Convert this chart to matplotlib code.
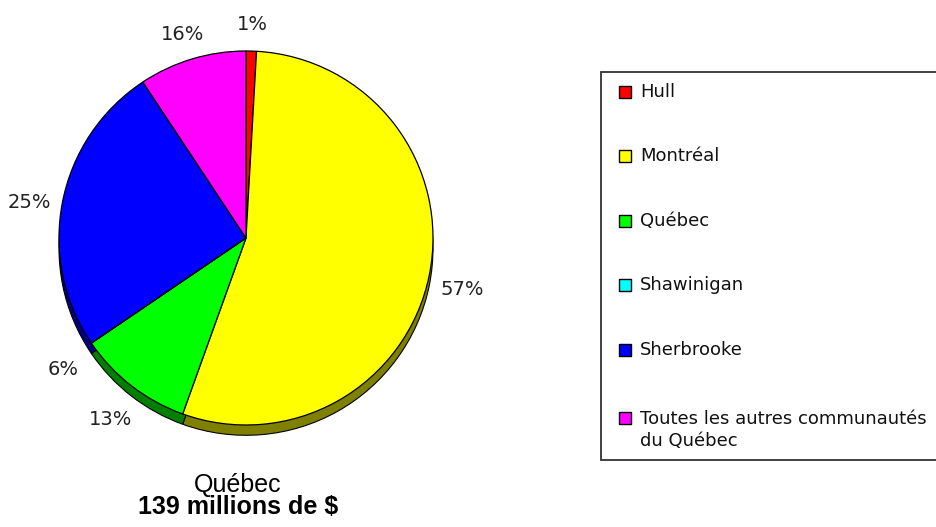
import matplotlib.pyplot as plt
from matplotlib.patches import Rectangle

# slice sizes (angles), labels as printed on the chart
cities = ["Hull", "Montréal", "Québec", "Shawinigan", "Sherbrooke",
          "Toutes les autres communautés\ndu Québec"]
sizes = [0.9, 54.6, 10.0, 0.0, 25.2, 9.3]
pct_labels = ["1%", "57%", "13%", "6%", "25%", "16%"]
colors = ["#FF0000", "#FFFF00", "#00FF00", "#00FFFF", "#0000FF", "#FF00FF"]
side_colors = ["#800000", "#808000", "#008000", "#008080", "#000080", "#800080"]

W, H = 937, 527
fig = plt.figure(figsize=(W / 100, H / 100), dpi=100)

# pie axes: center at (246, 238) px, radius ~187 px
r_px = 187
lim = 1.4
span = 2 * lim * r_px
cx, cy = 246, H - 238
ax = fig.add_axes([(cx - span / 2) / W, (cy - span / 2) / H, span / W, span / H])

# the "3D" side of the pie, shifted down
ax.pie(sizes, colors=side_colors, startangle=90, counterclock=False,
       center=(0, -0.055), wedgeprops=dict(edgecolor="black", linewidth=0.8))
wedges, texts = ax.pie(sizes, colors=colors, labels=pct_labels, startangle=90,
                       counterclock=False, labeldistance=1.18,
                       wedgeprops=dict(edgecolor="black", linewidth=0.9),
                       textprops=dict(fontsize=14, family="DejaVu Sans", color="#222222"))
for t in texts:
    x, y = t.get_position()
    t.set_position((x, y - 0.04))
    t.set_ha("center")
    t.set_va("center")
ax.set_xlim(-lim, lim)
ax.set_ylim(-lim, lim)
ax.set_aspect("equal")
ax.axis("off")

# overlay in pixel coords for legend and caption
ov = fig.add_axes([0, 0, 1, 1], facecolor="none")
ov.set_xlim(0, W)
ov.set_ylim(H, 0)
ov.axis("off")

ov.add_patch(Rectangle((601, 72), 345, 388, facecolor="white", edgecolor="#333333",
                       linewidth=1.3, clip_on=False))
row_y = [92, 156, 221, 285, 350, 418]
for name, c, y in zip(cities, colors, row_y):
    ov.add_patch(Rectangle((619, y - 6), 12, 12, facecolor=c, edgecolor="black", linewidth=1))
    two = "\n" in name
    ov.text(640, y + 12 if two else y, name, fontsize=13, family="DejaVu Sans",
            color="#111111", va="center", linespacing=1.3)

ov.text(238, 485, "Québec", fontsize=18, family="Liberation Sans", ha="center", va="center")
ov.text(238, 507, "139 millions de $", fontsize=18, family="Liberation Sans",
        weight="bold", ha="center", va="center")

fig.savefig("out.png", dpi=100)
